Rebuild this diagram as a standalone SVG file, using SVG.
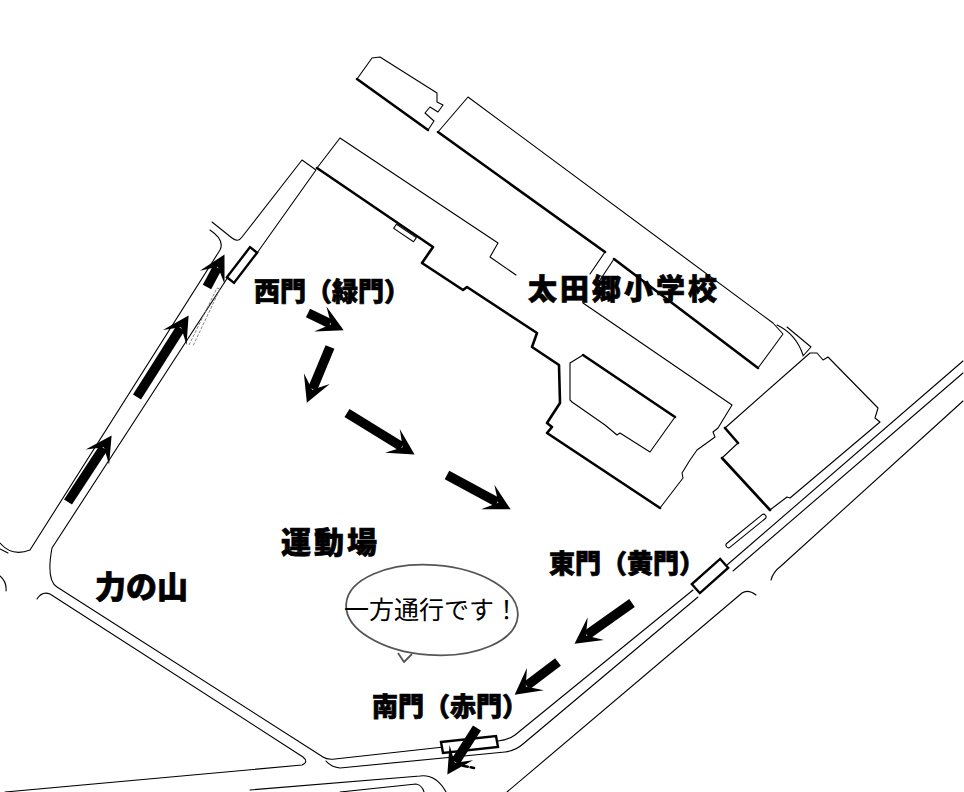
<svg xmlns="http://www.w3.org/2000/svg" width="964" height="792" viewBox="0 0 964 792">
<defs>
<style>
.t{fill:none;stroke:#000;stroke-width:1.1;stroke-linejoin:round;stroke-linecap:round}
.k{fill:none;stroke:#000;stroke-width:2.6;stroke-linejoin:round;stroke-linecap:round}
.g{fill:#fff;stroke:#000;stroke-width:2.4}
.ar{fill:none;stroke:#000;stroke-width:9.5;stroke-linecap:butt;marker-end:url(#ah)}
.lb{font-family:"Noto Sans CJK JP","Noto Sans CJK SC",sans-serif;font-weight:900;fill:#000;stroke:#000;stroke-width:0.7}
.bt{font-family:"Noto Sans CJK JP","Noto Sans CJK SC",sans-serif;font-weight:400;fill:#000}
</style>
<marker id="ah" markerUnits="userSpaceOnUse" markerWidth="32" markerHeight="34" viewBox="-14 -17 32 34" refX="0" refY="0" orient="auto">
<path d="M15,0 L-11,-14 L1,0 L-11,14 Z" fill="#000"/>
</marker>
</defs>
<rect width="964" height="792" fill="#fff"/>

<g id="roads">
<path class="t" d="M0,543 Q12,557 30,550 L220,250 Q225,240 210,230"/>
<path class="t" d="M0,549 L8,553"/>
<path class="t" d="M0,576 Q7,582 6,591"/>
<path class="t" d="M212,222 L232,238 Q238,243 242,237 L302,160 L316,170 L257,253"/>
<path class="t" d="M228,277 L52,548 Q46,580 57,587 L323,757 Q327,760 335,759 L498,741 Q508,740 515,735 L693,590"/>
<path d="M189,345 L217,288 L220,289 L193,346" fill="none" stroke="#777" stroke-width="0.9" stroke-dasharray="3 1.5"/>
<path class="t" d="M37,599 Q42,591 50,594 L303,757 Q309,762 302,765 L5,792"/>
<path class="t" d="M326,761 Q331,767 340,768 L505,752 Q515,751 523,744 L698,597"/>
<path class="t" d="M727,565 L963,361"/>
<path class="t" d="M733,571 L963,373"/>
<path class="t" d="M507,792 L742,593 Q748,589 756,595"/>
<path class="t" d="M771,580 Q773,572 781,566 L963,401"/>
<path class="t" d="M250,790 L420,776 Q436,774 446,792"/>
<path class="t" d="M340,792 L416,784 Q422,785 424,792"/>
<rect class="t" x="-25" y="-2.5" width="50" height="5" rx="2.5" transform="translate(746,531) rotate(-39)"/>
</g>

<g id="building-1">
<path class="t" d="M357,79 L372,58 L380,57 L437,93 L437,102 L443,105 L438,112 L430,107 L425,113 L434,121 L428,130"/>
<path class="k" d="M357,79 L428,130"/>
</g>

<g id="building-2">
<path class="t" d="M438,132 L468,97 L773,323 L783,334 L758,368"/>
<path class="k" d="M438,132 L605,252 M614,259 L758,368"/>
<path class="t" d="M605,252 L590,274 M614,259 L600,280"/>
</g>

<g id="building-3">
<path class="t" d="M317,168 L340,138 L498,243 L490,257 L516,275 M583,303 L732,405 L718,428 L713,432 L715,437 L697,450 L690,460 L682,473 L683,478 L660,508"/>
<path class="k" d="M660,508 L547,433 L552,427 L547,423 L560,403 L559,365 L532,347 L537,333 L467,287 L463,290 L422,263 L433,247 L317,168"/>
<path class="t" d="M570,400 L570,363 L583,355 M675,417 L650,452 L620,433 L617,435 L605,425 L572,402 L570,400"/>
<path class="k" d="M583,355 L675,417"/>
<rect class="t" x="-12" y="-2.5" width="24" height="5" transform="translate(405,233) rotate(34)"/>
</g>

<g id="building-4">
<path class="t" d="M725,428 L810,353 L817,353 L823,360 L828,357 L878,408 L875,418 L880,422 L790,498 L787,497 L770,510"/>
<path class="k" d="M770,510 L722,458 M738,443 L725,428"/>
<path class="t" d="M722,458 L738,443"/>
<path class="t" d="M777,325 Q796,334 803,355 M787,327 L811,347 L803,356"/>
</g>

<g id="gates">
<rect class="g" x="-19" y="-4.5" width="38" height="9" transform="translate(242,265) rotate(-52.5)"/>
<rect class="g" x="-19" y="-6" width="38" height="12" transform="translate(710,576) rotate(-41.8)"/>
<path class="g" d="M441,742 L496,736 L498,747 L443,753 Z"/>
<path class="k" d="M455,764 L474,768" stroke-dasharray="5 3"/>
</g>

<g id="arrows">
<path class="ar" d="M68,502 L103.4,448"/>
<path class="ar" d="M137,397 L180.6,328.1"/>
<path class="ar" d="M207,287 L217.4,267.6"/>
<path class="ar" d="M308,313 L330.2,323.8"/>
<path class="ar" d="M330,347 L312.6,388.9"/>
<path class="ar" d="M347,413 L401.8,446.7"/>
<path class="ar" d="M447,475 L497.4,502.2"/>
<path class="ar" d="M632,603 L586.8,635"/>
<path class="ar" d="M558,662 L526.6,685.8"/>
<path class="ar" d="M477,728 L455.4,761.9"/>
</g>

<g id="bubble">
<ellipse cx="432" cy="610" rx="86" ry="45" transform="rotate(4 432 610)" fill="#fff" stroke="#555" stroke-width="1.8"/>
<path d="M398,653 L404,662 L412,654" fill="#fff" stroke="#555" stroke-width="1.8" stroke-linejoin="round"/>
<text class="bt" x="344" y="619" font-size="25">一方通行です！</text>
</g>

<g id="labels">
<text class="lb" x="254" y="301" font-size="26">西門（緑門）</text>
<text class="lb" x="528" y="300" font-size="29" letter-spacing="3">太田郷小学校</text>
<text class="lb" x="549" y="573" font-size="26">東門（黄門）</text>
<text class="lb" x="372" y="716" font-size="26">南門（赤門）</text>
<text class="lb" x="281" y="553" font-size="30" letter-spacing="3">運動場</text>
<text class="lb" x="95" y="598" font-size="31">力の山</text>
</g>
</svg>
